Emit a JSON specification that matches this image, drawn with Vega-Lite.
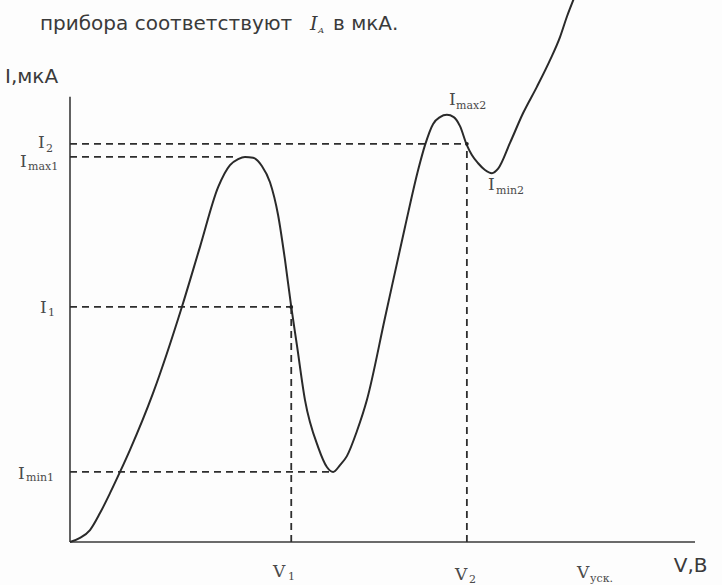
{
  "$schema": "https://vega.github.io/schema/vega-lite/v6.json",
  "width": 722,
  "height": 585,
  "autosize": {"type": "none"},
  "padding": 0,
  "background": "#fdfdfd",
  "config": {"view": {"stroke": null}},
  "datasets": {
    "curve": [
      {"x": 0, "y": 0}, {"x": 1.6, "y": 0.9}, {"x": 3.2, "y": 2.65}, {"x": 4.8, "y": 6.4},
      {"x": 6.4, "y": 10.8}, {"x": 8.0, "y": 15.5}, {"x": 9.6, "y": 20.4},
      {"x": 13.3, "y": 33.0}, {"x": 17.9, "y": 52.0}, {"x": 20.8, "y": 65.3}, {"x": 23.7, "y": 78.5},
      {"x": 25.6, "y": 83.4}, {"x": 26.9, "y": 84.7}, {"x": 28.0, "y": 85.2}, {"x": 29.3, "y": 85.0},
      {"x": 30.7, "y": 83.2}, {"x": 32.0, "y": 79.6}, {"x": 33.3, "y": 72.3}, {"x": 34.4, "y": 62.4},
      {"x": 35.4, "y": 52.0}, {"x": 36.3, "y": 43.6}, {"x": 37.6, "y": 31.4}, {"x": 39.7, "y": 21.0},
      {"x": 41.1, "y": 16.6}, {"x": 42.1, "y": 15.5}, {"x": 43.2, "y": 17.0}, {"x": 44.3, "y": 19.0},
      {"x": 45.9, "y": 24.5}, {"x": 47.5, "y": 31.4}, {"x": 50.4, "y": 49.6}, {"x": 53.6, "y": 69.7},
      {"x": 55.7, "y": 82.3}, {"x": 56.8, "y": 87.8}, {"x": 58.1, "y": 92.5}, {"x": 59.2, "y": 94.0},
      {"x": 60.3, "y": 94.5}, {"x": 61.4, "y": 94.0}, {"x": 62.4, "y": 92.0}, {"x": 63.5, "y": 87.8},
      {"x": 64.3, "y": 85.6}, {"x": 65.3, "y": 83.8}, {"x": 66.4, "y": 82.3}, {"x": 67.5, "y": 81.6},
      {"x": 68.5, "y": 82.6}, {"x": 70.4, "y": 88.3}, {"x": 72.5, "y": 94.9}, {"x": 74.7, "y": 100.7},
      {"x": 76.8, "y": 106.6}, {"x": 78.4, "y": 111.7}, {"x": 79.5, "y": 116.2}, {"x": 80.7, "y": 120.5}
    ],
    "axes": [
      {"x": 0, "y": 0, "x2": 0, "y2": 98.5},
      {"x": 0, "y": 0, "x2": 100, "y2": 0}
    ],
    "guides": [
      {"x": 0, "y": 88.1, "x2": 63.5, "y2": 88.1},
      {"x": 0, "y": 85.2, "x2": 26.1, "y2": 85.2},
      {"x": 0, "y": 52.0, "x2": 35.4, "y2": 52.0},
      {"x": 0, "y": 15.5, "x2": 42.1, "y2": 15.5},
      {"x": 35.4, "y": 0, "x2": 35.4, "y2": 52.0},
      {"x": 63.5, "y": 0, "x2": 63.5, "y2": 88.1}
    ],
    "dots": [
      {"x": 35.4, "y": 52.0},
      {"x": 63.5, "y": 88.1}
    ],
    "serif": [
      {"x": -5.12, "y": 87.17, "t": "I"},
      {"x": -8.0, "y": 82.96, "t": "I"},
      {"x": -4.8, "y": 50.66, "t": "I"},
      {"x": -8.32, "y": 13.94, "t": "I"},
      {"x": 32.48, "y": -7.74, "t": "V"},
      {"x": 61.6, "y": -8.41, "t": "V"},
      {"x": 81.12, "y": -7.96, "t": "V"},
      {"x": 60.64, "y": 96.68, "t": "I"},
      {"x": 66.88, "y": 77.88, "t": "I"}
    ],
    "serifSub": [
      {"x": -3.84, "y": 86.28, "t": "2"},
      {"x": -6.72, "y": 82.30, "t": "max1"},
      {"x": -3.52, "y": 50.0, "t": "1"},
      {"x": -7.04, "y": 13.5, "t": "min1"},
      {"x": 34.88, "y": -8.41, "t": "1"},
      {"x": 63.84, "y": -9.07, "t": "2"},
      {"x": 83.2, "y": -8.85, "t": "уск."},
      {"x": 61.76, "y": 95.8, "t": "max2"},
      {"x": 68.16, "y": 76.99, "t": "min2"}
    ],
    "sans": [
      {"x": -10.4, "y": 101.55, "t": "I,мкА"},
      {"x": 96.6, "y": -6.64, "t": "V,В"},
      {"x": -4.8, "y": 113.27, "t": "прибора соответствуют"},
      {"x": 42.08, "y": 113.27, "t": "в мкА."}
    ],
    "italic": [
      {"x": 38.4, "y": 113.27, "t": "I"}
    ],
    "italicSub": [
      {"x": 39.7, "y": 112.6, "t": "A"}
    ]
  },
  "encoding": {
    "x": {"field": "x", "type": "quantitative", "scale": {"domain": [-11.2, 104.32], "nice": false, "zero": false}, "axis": null},
    "y": {"field": "y", "type": "quantitative", "scale": {"domain": [-9.513, 119.912], "nice": false, "zero": false}, "axis": null}
  },
  "layer": [
    {
      "data": {"name": "axes"},
      "mark": {"type": "rule", "stroke": "#3a3a3a", "strokeWidth": 1.6},
      "encoding": {"x2": {"field": "x2"}, "y2": {"field": "y2"}}
    },
    {
      "data": {"name": "guides"},
      "mark": {"type": "rule", "stroke": "#2e2e2e", "strokeWidth": 1.8, "strokeDash": [7, 5]},
      "encoding": {"x2": {"field": "x2"}, "y2": {"field": "y2"}}
    },
    {
      "data": {"name": "curve"},
      "mark": {"type": "line", "stroke": "#2a2a2a", "strokeWidth": 2, "interpolate": "monotone", "clip": true},
      "encoding": {}
    },
    {
      "data": {"name": "dots"},
      "mark": {"type": "point", "filled": true, "color": "#222", "size": 14, "opacity": 1},
      "encoding": {}
    },
    {
      "data": {"name": "serif"},
      "mark": {"type": "text", "font": "DejaVu Serif", "fontSize": 17, "align": "left", "baseline": "alphabetic", "color": "#4a4a4a"},
      "encoding": {"text": {"field": "t"}}
    },
    {
      "data": {"name": "serifSub"},
      "mark": {"type": "text", "font": "DejaVu Serif", "fontSize": 11, "align": "left", "baseline": "alphabetic", "color": "#4a4a4a"},
      "encoding": {"text": {"field": "t"}}
    },
    {
      "data": {"name": "sans"},
      "mark": {"type": "text", "font": "DejaVu Sans", "fontSize": 20, "align": "left", "baseline": "alphabetic", "color": "#3a3a3a"},
      "encoding": {"text": {"field": "t"}}
    },
    {
      "data": {"name": "italic"},
      "mark": {"type": "text", "font": "DejaVu Serif", "fontSize": 19, "fontStyle": "italic", "align": "left", "baseline": "alphabetic", "color": "#3a3a3a"},
      "encoding": {"text": {"field": "t"}}
    },
    {
      "data": {"name": "italicSub"},
      "mark": {"type": "text", "font": "DejaVu Serif", "fontSize": 8, "fontStyle": "italic", "align": "left", "baseline": "alphabetic", "color": "#3a3a3a"},
      "encoding": {"text": {"field": "t"}}
    }
  ]
}
